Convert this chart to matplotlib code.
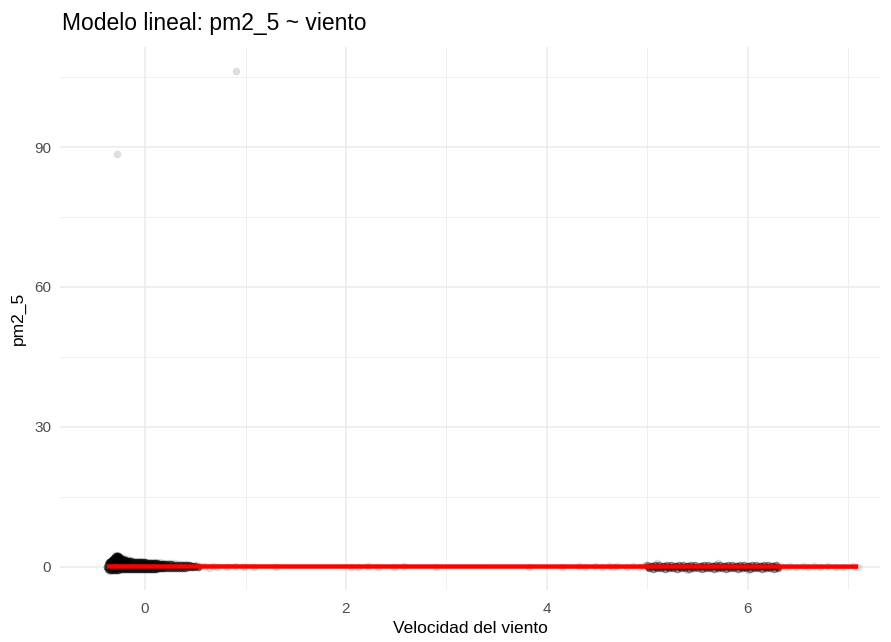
import matplotlib.pyplot as plt

plt.rcParams['font.family'] = ['Liberation Sans', 'DejaVu Sans']

# velocidad del viento (estandarizada) y pm2_5, leidos del grafico
# nucleo denso, viento bajo
nucleo_bajo_x = [-0.38, -0.37, -0.36, -0.35, -0.34, -0.33, -0.32, -0.31, -0.30, -0.29,
                 -0.28, -0.27, -0.26, -0.25, -0.24, -0.23, -0.22, -0.21, -0.20, -0.19,
                 -0.18, -0.16, -0.14, -0.12, -0.10, -0.08, -0.06, -0.04, -0.02, 0.00,
                 0.02, 0.04, 0.06, 0.08, 0.10, 0.12, 0.14, 0.16, 0.18, 0.20,
                 0.23, 0.26, 0.29, 0.32, 0.35, 0.38, 0.41, 0.44, 0.47, 0.50,
                 -0.37, -0.35, -0.33, -0.31, -0.29, -0.27, -0.25, -0.23, -0.21, -0.19,
                 -0.17, -0.15, -0.13, -0.11, -0.09, -0.07, -0.05, -0.03, -0.01, 0.01,
                 0.03, 0.05, 0.07, 0.09, 0.11, 0.13, 0.15, 0.17, 0.19, 0.22,
                 0.25, 0.28, 0.31, 0.34, 0.37, 0.40, 0.43, 0.46, 0.49, 0.53,
                 -0.30, -0.28, -0.26, -0.24, -0.22, -0.29, -0.27, -0.25, -0.23, -0.20]
nucleo_bajo_y = [0.0, 0.6, 0.9, 1.1, 1.3, 1.5, 1.7, 1.9, 2.1, 2.3,
                 2.3, 2.2, 2.0, 1.8, 1.7, 1.6, 1.5, 1.4, 1.4, 1.3,
                 1.3, 1.2, 1.2, 1.1, 1.1, 1.0, 1.0, 0.9, 0.9, 0.9,
                 0.8, 0.8, 0.8, 0.7, 0.7, 0.7, 0.6, 0.6, 0.6, 0.5,
                 0.5, 0.5, 0.4, 0.4, 0.4, 0.3, 0.3, 0.3, 0.2, 0.2,
                 -0.6, -0.7, -0.7, -0.7, -0.7, -0.7, -0.6, -0.6, -0.6, -0.6,
                 -0.6, -0.6, -0.5, -0.5, -0.5, -0.5, -0.5, -0.5, -0.5, -0.4,
                 -0.4, -0.4, -0.4, -0.4, -0.4, -0.3, -0.3, -0.3, -0.3, -0.3,
                 -0.3, -0.2, -0.2, -0.2, -0.2, -0.2, -0.1, -0.1, -0.1, -0.1,
                 1.2, 1.6, 1.0, 0.9, 0.8, 0.5, 0.4, 0.3, 0.6, 0.2]

# nucleo denso, viento alto
nucleo_alto_x = [5.00, 5.04, 5.08, 5.12, 5.16, 5.20, 5.24, 5.28, 5.32, 5.36,
                 5.40, 5.44, 5.48, 5.52, 5.56, 5.60, 5.64, 5.68, 5.72, 5.76,
                 5.80, 5.84, 5.88, 5.92, 5.96, 6.00, 6.04, 6.08, 6.12, 6.16,
                 6.20, 6.24, 6.28, 5.02, 5.06, 5.10, 5.14, 5.18, 5.22, 5.26,
                 5.30, 5.34, 5.38, 5.42, 5.46, 5.50, 5.54, 5.58, 5.62, 5.66,
                 5.70, 5.74, 5.78, 5.82, 5.86, 5.90, 5.94, 5.98, 6.02, 6.06,
                 6.10, 6.14, 6.18, 6.22, 6.26, 6.30, 5.01, 5.05, 5.09, 5.13,
                 5.17, 5.21, 5.25, 5.29, 5.33, 5.37, 5.41, 5.45, 5.49, 5.53,
                 5.57, 5.61, 5.65, 5.69, 5.73, 5.77, 5.81, 5.85, 5.89, 5.93,
                 5.97, 6.01, 6.05, 6.09, 6.13, 6.17, 6.21, 6.25, 6.29]
nucleo_alto_y = [0.4, 0.2, 0.3, 0.4, 0.2, 0.3, 0.4, 0.2, 0.3, 0.4,
                 0.2, 0.3, 0.4, 0.2, 0.3, 0.4, 0.2, 0.3, 0.4, 0.2,
                 0.3, 0.4, 0.2, 0.3, 0.4, 0.2, 0.3, 0.4, 0.2, 0.3,
                 0.4, 0.2, 0.3, -0.3, -0.4, -0.2, -0.3, -0.4, -0.2, -0.3,
                 -0.4, -0.2, -0.3, -0.4, -0.2, -0.3, -0.4, -0.2, -0.3, -0.4,
                 -0.2, -0.3, -0.4, -0.2, -0.3, -0.4, -0.2, -0.3, -0.4, -0.2,
                 -0.3, -0.4, -0.2, -0.3, -0.4, -0.2, 0.0, 0.1, -0.1, 0.0,
                 0.1, -0.1, 0.0, 0.1, -0.1, 0.0, 0.1, -0.1, 0.0, 0.1,
                 -0.1, 0.0, 0.1, -0.1, 0.0, 0.1, -0.1, 0.0, 0.1, -0.1,
                 0.0, 0.1, -0.1, 0.0, 0.1, -0.1, 0.0, 0.1, -0.1]

# puntos dispersos
disperso_x = [-0.36, -0.33, -0.30, -0.27, -0.24, -0.21, -0.18, -0.15, -0.10, -0.05,
              0.00, 0.05, 0.10, 0.15, 0.20, 0.25, 0.30, 0.35, 0.40, 0.45,
              0.52, 0.56, 0.60, 0.64, 0.68, 0.72, 0.82, 0.90, 0.98, 1.08,
              1.30, 2.05, 2.12, 2.22, 2.32, 2.48, 2.58, 2.90, 3.82, 4.15,
              4.32, 4.38, 4.48, 4.55, 4.62, 4.66, 4.70, 4.80, 4.86, 4.92,
              4.96, 5.10, 5.40, 5.70, 6.00, 6.33, 6.38, 6.42, 6.48, 6.55,
              6.60, 6.66, 6.72, 6.80, 6.88, 6.95, 7.05, 7.10]
disperso_y = [-0.9, 1.4, 2.5, 2.6, 2.1, 1.8, 1.6, 1.5, 1.3, 1.2,
              1.1, 1.0, 1.0, 0.9, 0.8, 0.7, 0.7, 0.6, 0.5, 0.4,
              0.3, 0.2, 0.1, -0.2, 0.2, 0.0, 0.0, 0.1, -0.1, 0.0,
              0.0, 0.0, -0.1, 0.1, 0.0, -0.1, 0.1, 0.0, 0.0, 0.0,
              0.1, -0.1, 0.2, 0.0, 0.1, -0.1, 0.1, 0.0, 0.2, -0.1,
              0.1, 0.7, -0.7, 0.7, -0.7, 0.1, -0.1, 0.2, 0.0, 0.1,
              -0.1, 0.1, 0.0, 0.1, -0.1, 0.0, 0.1, 0.0]

# valores atipicos
atipico_x = [-0.28, 0.91]
atipico_y = [88.5, 106.3]

# recta ajustada
intercepto = 0.05
pendiente = -0.005
recta_x = [-0.38, 7.1]

fig = plt.figure(figsize=(8.91, 6.42), dpi=100)
ax = fig.add_axes([0.067, 0.081, 0.921, 0.846])

ax.scatter(disperso_x + atipico_x, disperso_y + atipico_y, s=30, color='black',
           alpha=0.13, linewidths=0, zorder=2)
ax.scatter(nucleo_bajo_x, nucleo_bajo_y, s=30, color='black', alpha=0.6,
           linewidths=0, zorder=2)
ax.scatter(nucleo_alto_x, nucleo_alto_y, s=30, color='black', alpha=0.45,
           linewidths=0, zorder=2)

ax.plot(recta_x, [intercepto + pendiente * v for v in recta_x],
        color='red', lw=3.2, solid_capstyle='butt', zorder=3)

ax.set_xlim(-0.85, 7.32)
ax.set_ylim(-5, 111.5)
ax.set_xticks([0, 2, 4, 6])
ax.set_xticks([1, 3, 5, 7], minor=True)
ax.set_yticks([0, 30, 60, 90])
ax.set_yticks([15, 45, 75, 105], minor=True)
ax.grid(which='major', color='#ebebeb', lw=1.1, zorder=0)
ax.grid(which='minor', color='#ebebeb', lw=0.55, zorder=0)
ax.set_axisbelow(True)
for s in ax.spines.values():
    s.set_visible(False)
ax.tick_params(which='both', length=0, labelsize=11, labelcolor='#4d4d4d')
ax.tick_params(axis='x', pad=9)
ax.tick_params(axis='y', pad=6)

ax.set_xlabel('Velocidad del viento', fontsize=12.5, labelpad=3)
ax.set_ylabel('pm2_5', fontsize=12.5, labelpad=6)
fig.text(0.07, 0.963, 'Modelo lineal: pm2_5 ~ viento', fontsize=16.5,
         ha='left', va='center')

fig.savefig('out.png', dpi=100)
